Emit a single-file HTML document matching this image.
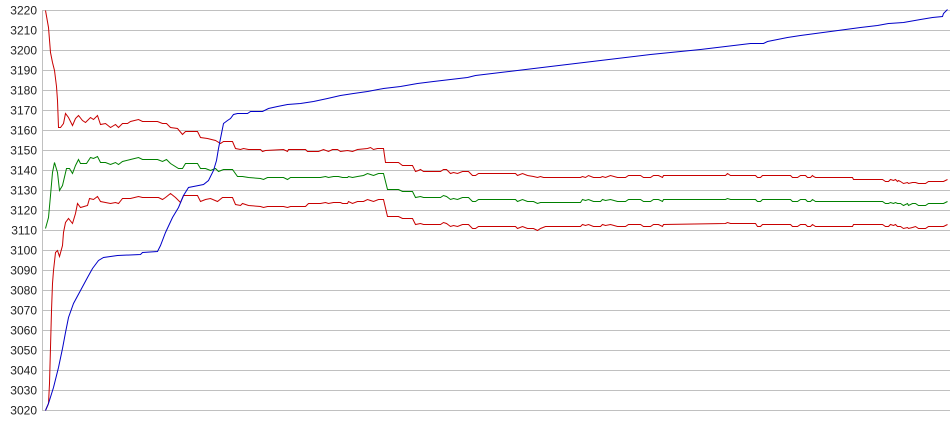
<!DOCTYPE html>
<html><head><meta charset="utf-8"><style>
html,body{margin:0;padding:0;background:#fff;}
svg{display:block;}
text{font-family:"Liberation Sans",Arial,sans-serif;font-size:12px;fill:#222;}
</style></head><body>
<svg width="950" height="435" viewBox="0 0 950 435" xmlns="http://www.w3.org/2000/svg">
<rect width="950" height="435" fill="#fff"/>
<g stroke="#c0c0c0" stroke-width="1" shape-rendering="crispEdges">
<line x1="42" y1="10.5" x2="950" y2="10.5"/>
<line x1="42" y1="30.5" x2="950" y2="30.5"/>
<line x1="42" y1="50.5" x2="950" y2="50.5"/>
<line x1="42" y1="70.5" x2="950" y2="70.5"/>
<line x1="42" y1="90.5" x2="950" y2="90.5"/>
<line x1="42" y1="110.5" x2="950" y2="110.5"/>
<line x1="42" y1="130.5" x2="950" y2="130.5"/>
<line x1="42" y1="150.5" x2="950" y2="150.5"/>
<line x1="42" y1="170.5" x2="950" y2="170.5"/>
<line x1="42" y1="190.5" x2="950" y2="190.5"/>
<line x1="42" y1="210.5" x2="950" y2="210.5"/>
<line x1="42" y1="230.5" x2="950" y2="230.5"/>
<line x1="42" y1="250.5" x2="950" y2="250.5"/>
<line x1="42" y1="270.5" x2="950" y2="270.5"/>
<line x1="42" y1="290.5" x2="950" y2="290.5"/>
<line x1="42" y1="310.5" x2="950" y2="310.5"/>
<line x1="42" y1="330.5" x2="950" y2="330.5"/>
<line x1="42" y1="350.5" x2="950" y2="350.5"/>
<line x1="42" y1="370.5" x2="950" y2="370.5"/>
<line x1="42" y1="390.5" x2="950" y2="390.5"/>
<line x1="42" y1="410.5" x2="950" y2="410.5"/>
<line x1="42.5" y1="10" x2="42.5" y2="411"/>
</g>
<g text-anchor="end">
<text x="37" y="14.5">3220</text>
<text x="37" y="34.5">3210</text>
<text x="37" y="54.5">3200</text>
<text x="37" y="74.5">3190</text>
<text x="37" y="94.5">3180</text>
<text x="37" y="114.5">3170</text>
<text x="37" y="134.5">3160</text>
<text x="37" y="154.5">3150</text>
<text x="37" y="174.5">3140</text>
<text x="37" y="194.5">3130</text>
<text x="37" y="214.5">3120</text>
<text x="37" y="234.5">3110</text>
<text x="37" y="254.5">3100</text>
<text x="37" y="274.5">3090</text>
<text x="37" y="294.5">3080</text>
<text x="37" y="314.5">3070</text>
<text x="37" y="334.5">3060</text>
<text x="37" y="354.5">3050</text>
<text x="37" y="374.5">3040</text>
<text x="37" y="394.5">3030</text>
<text x="37" y="414.5">3020</text>
</g>
<g fill="none" stroke-width="1" transform="translate(0.5,0.5)" stroke-linejoin="miter">
<polyline stroke="#c80000" points="45,10 48,27 50,52 52,62 54,70 56,86 57,100 58,127 60,127 63,123 65,113 68,117 72,125 75,118 78,115 82,120 85,122 90,117 93,119 97,115 100,124 105,123 110,127 115,124 118,127 122,123 127,123 130,121 138,119 142,121 157,121 162,123 166,123 170,127 177,128 182,134 185,131 197,131 200,137 207,138 215,140 220,143 223,141 232,141 235,148 240,149 243,148 248,149 260,149 262,151 265,150 283,149 287,151 288,149 305,149 307,151 318,151 323,149 328,151 332,149 337,149 340,151 347,150 352,151 357,149 367,148 370,147 373,149 377,148 383,148 385,162 398,162 402,165 412,165 415,171 418,170 420,169 423,171 440,171 443,169 446,169 450,173 453,172 457,173 462,171 468,171 472,175 475,175 478,173 515,173 517,175 522,173 527,175 533,176 537,177 540,176 543,177 580,177 582,176 585,177 588,175 593,177 600,177 602,176 605,177 610,175 617,177 625,177 628,175 640,175 643,177 650,177 653,175 658,175 662,177 663,175 725,175 727,173 730,175 755,175 757,177 760,177 762,175 790,175 792,177 797,177 800,175 805,175 807,177 810,177 812,175 813,176 815,177 852,177 853,179 882,179 885,181 888,181 890,179 893,180 895,179 897,181 898,180 900,181 903,183 907,182 908,183 912,182 915,182 918,183 925,183 928,181 943,181 947,179"/>
<polyline stroke="#008000" points="45,228 48,217 50,195 52,172 54,162 57,172 59,190 62,185 66,168 69,168 72,173 75,165 78,159 80,163 86,163 90,157 93,158 97,156 100,162 105,162 110,164 115,162 118,164 122,161 130,159 138,157 142,159 157,159 162,161 166,159 170,163 178,168 182,168 185,163 197,163 200,168 205,168 210,170 215,168 218,171 223,169 232,169 237,176 242,176 248,177 260,178 263,179 267,177 283,177 287,179 290,177 320,177 325,176 328,177 333,176 338,176 342,177 347,177 348,176 352,177 357,176 363,175 367,173 370,174 373,175 378,173 383,173 387,189 398,189 402,191 412,191 415,197 420,196 423,197 440,197 443,195 446,196 450,199 453,198 457,199 462,197 468,197 472,201 475,201 478,199 515,199 517,201 522,199 527,201 533,201 537,203 540,202 580,202 582,199 585,200 588,199 593,201 600,201 602,199 605,200 610,199 617,201 625,201 628,199 640,199 643,201 650,201 653,199 658,199 662,201 663,199 725,199 727,198 730,199 755,199 757,201 760,201 762,199 790,199 792,201 797,201 800,199 805,199 807,201 810,201 812,199 815,201 882,201 885,203 888,203 890,202 893,203 895,202 897,203 900,203 903,205 907,203 908,205 912,203 915,203 918,205 925,205 928,203 943,203 947,201"/>
<polyline stroke="#c80000" points="45,410 48,403 49,383 50,347 51,310 52,283 53,270 55,252 57,250 59,256 62,245 63,232 65,222 68,218 72,223 75,213 77,203 80,207 87,205 89,198 93,199 97,196 100,201 105,202 110,203 115,202 118,203 122,198 130,198 138,196 142,197 158,197 162,199 165,197 170,193 175,197 180,202 183,195 197,195 200,201 205,199 210,198 217,201 222,197 232,197 235,204 240,205 242,203 248,205 260,206 263,207 267,206 283,206 287,207 290,206 305,206 308,203 320,203 325,202 328,203 333,202 340,202 342,203 347,203 348,201 352,203 357,201 363,201 367,199 370,200 373,201 378,199 383,199 387,216 398,216 402,218 412,218 415,224 420,223 423,224 440,224 443,222 446,223 450,226 453,225 457,226 462,224 468,224 472,228 475,228 478,226 515,226 517,228 522,226 527,228 533,228 537,230 540,228 545,226 580,226 582,224 585,225 588,224 593,226 600,226 602,224 605,225 610,224 617,226 625,226 628,224 640,224 643,226 650,226 653,224 658,224 662,226 663,224 725,223 727,222 730,223 755,223 757,226 760,226 762,224 790,224 792,226 797,226 800,224 805,224 807,226 810,226 812,224 815,226 852,226 853,224 882,224 885,226 888,226 890,224 893,225 895,224 897,226 900,226 903,228 907,227 908,228 912,227 915,226 918,228 925,228 928,226 943,226 947,224"/>
<polyline stroke="#0000c8" points="45,410 48,403 53,387 58,367 62,348 65,332 68,317 73,303 80,290 87,277 92,268 98,260 103,257 117,255 140,254 142,252 157,251 160,245 165,232 172,217 178,207 183,195 188,187 193,186 203,184 208,180 213,170 216,160 218,148 220,138 222,128 223,123 227,120 230,118 233,114 237,113 247,113 250,111 262,111 268,108 277,106 287,104 300,103 313,101 327,98 340,95 353,93 367,91 383,88 400,86 417,83 433,81 450,79 467,77 475,75 500,72 550,66 600,60 650,54 700,49 750,43 763,43 767,41 777,39 787,37 800,35 815,33 830,31 845,29 860,27 877,25 888,23 903,22 920,19 932,17 942,16 943,13 947,9"/>
</g>
</svg>
</body></html>
